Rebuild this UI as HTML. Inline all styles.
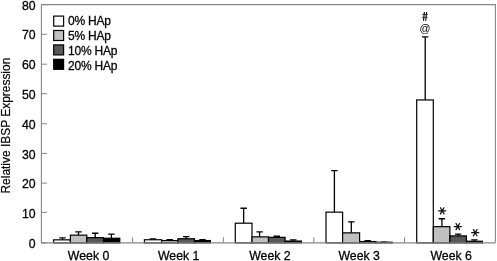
<!DOCTYPE html>
<html><head><meta charset="utf-8"><style>
html,body{margin:0;padding:0;background:#fff;width:497px;height:261px;overflow:hidden}
svg{display:block;will-change:transform}
text{font-family:"Liberation Sans",sans-serif;fill:#000;stroke:#000;stroke-width:0.28px}
.t{font-size:12.3px}
.ya{font-size:11.94px;stroke-width:0.2px}
.lg{font-size:12px;letter-spacing:-0.2px}
.an{font-size:10.8px;stroke-width:0}
.st{font-size:15px}
</style></head><body>
<svg width="497" height="261" viewBox="0 0 497 261">
<path d="M41.4 4.6H495.4V242.85" fill="none" stroke="#868686" stroke-width="1.1"/>
<path d="M41.4 242.85h5.6" stroke="#868686" stroke-width="1"/>
<path d="M41.4 212.35h5.6" stroke="#868686" stroke-width="1"/>
<path d="M41.4 183.10h5.6" stroke="#868686" stroke-width="1"/>
<path d="M41.4 153.40h5.6" stroke="#868686" stroke-width="1"/>
<path d="M41.4 123.75h5.6" stroke="#868686" stroke-width="1"/>
<path d="M41.4 93.65h5.6" stroke="#868686" stroke-width="1"/>
<path d="M41.4 64.20h5.6" stroke="#868686" stroke-width="1"/>
<path d="M41.4 34.30h5.6" stroke="#868686" stroke-width="1"/>
<path d="M41.4 4.60h5.6" stroke="#868686" stroke-width="1"/>
<path d="M132.60 242.85v-5.6" stroke="#868686" stroke-width="1"/>
<path d="M223.40 242.85v-5.6" stroke="#868686" stroke-width="1"/>
<path d="M313.80 242.85v-5.6" stroke="#868686" stroke-width="1"/>
<path d="M404.50 242.85v-5.6" stroke="#868686" stroke-width="1"/>
<path d="M62.50 239.85V237.85M59.30 237.85h6.4" stroke="#000" stroke-width="1.3" fill="none"/>
<rect x="53.60" y="239.85" width="16.80" height="3.00" fill="#ffffff" stroke="#000" stroke-width="1.2"/>
<path d="M78.50 235.15V231.95M75.30 231.95h6.4" stroke="#000" stroke-width="1.3" fill="none"/>
<rect x="70.40" y="235.15" width="16.40" height="7.70" fill="#c0c0c0" stroke="#000" stroke-width="1.2"/>
<path d="M95.20 237.65V233.25M92.00 233.25h6.4" stroke="#000" stroke-width="1.3" fill="none"/>
<rect x="86.80" y="237.65" width="16.70" height="5.20" fill="#595959" stroke="#000" stroke-width="1.2"/>
<path d="M111.40 238.25V234.05M108.20 234.05h6.4" stroke="#000" stroke-width="1.3" fill="none"/>
<rect x="103.50" y="238.25" width="16.30" height="4.60" fill="#000000" stroke="#000" stroke-width="1.2"/>
<path d="M153.00 239.75V238.85M149.80 238.85h6.4" stroke="#000" stroke-width="1.3" fill="none"/>
<rect x="144.40" y="239.75" width="17.20" height="3.10" fill="#ffffff" stroke="#000" stroke-width="1.2"/>
<path d="M169.75 240.55V239.75M166.55 239.75h6.4" stroke="#000" stroke-width="1.3" fill="none"/>
<rect x="161.60" y="240.55" width="16.30" height="2.30" fill="#c0c0c0" stroke="#000" stroke-width="1.2"/>
<path d="M186.20 238.75V236.55M183.00 236.55h6.4" stroke="#000" stroke-width="1.3" fill="none"/>
<rect x="177.90" y="238.75" width="16.60" height="4.10" fill="#595959" stroke="#000" stroke-width="1.2"/>
<path d="M202.45 240.55V239.75M199.25 239.75h6.4" stroke="#000" stroke-width="1.3" fill="none"/>
<rect x="194.50" y="240.55" width="15.90" height="2.30" fill="#000000" stroke="#000" stroke-width="1.2"/>
<path d="M243.65 223.20V208.25M240.45 208.25h6.4" stroke="#000" stroke-width="1.3" fill="none"/>
<rect x="235.30" y="223.20" width="16.70" height="19.65" fill="#ffffff" stroke="#000" stroke-width="1.2"/>
<path d="M259.60 236.85V231.85M256.40 231.85h6.4" stroke="#000" stroke-width="1.3" fill="none"/>
<rect x="252.00" y="236.85" width="16.50" height="6.00" fill="#c0c0c0" stroke="#000" stroke-width="1.2"/>
<path d="M276.80 237.35V236.25M273.60 236.25h6.4" stroke="#000" stroke-width="1.3" fill="none"/>
<rect x="268.50" y="237.35" width="16.60" height="5.50" fill="#595959" stroke="#000" stroke-width="1.2"/>
<path d="M293.25 241.05V239.85M290.05 239.85h6.4" stroke="#000" stroke-width="1.3" fill="none"/>
<rect x="285.10" y="241.05" width="16.30" height="1.80" fill="#000000" stroke="#000" stroke-width="1.2"/>
<path d="M334.40 212.15V170.65M331.20 170.65h6.4" stroke="#000" stroke-width="1.3" fill="none"/>
<rect x="326.00" y="212.15" width="16.60" height="30.70" fill="#ffffff" stroke="#000" stroke-width="1.2"/>
<path d="M351.30 232.85V221.85M348.10 221.85h6.4" stroke="#000" stroke-width="1.3" fill="none"/>
<rect x="342.60" y="232.85" width="17.00" height="10.00" fill="#c0c0c0" stroke="#000" stroke-width="1.2"/>
<path d="M367.75 241.55V240.65M364.55 240.65h6.4" stroke="#000" stroke-width="1.3" fill="none"/>
<rect x="359.60" y="241.55" width="16.30" height="1.30" fill="#595959" stroke="#000" stroke-width="1.2"/>
<path d="M384.05 242.25V242.05M380.85 242.05h6.4" stroke="#000" stroke-width="1.3" fill="none"/>
<rect x="375.90" y="242.25" width="16.30" height="0.60" fill="#000000" stroke="#000" stroke-width="1.2"/>
<path d="M425.20 99.95V36.85M422.00 36.85h6.4" stroke="#000" stroke-width="1.3" fill="none"/>
<rect x="416.70" y="99.95" width="16.60" height="142.90" fill="#ffffff" stroke="#000" stroke-width="1.2"/>
<path d="M441.90 226.65V218.75M438.70 218.75h6.4" stroke="#000" stroke-width="1.3" fill="none"/>
<rect x="433.30" y="226.65" width="16.60" height="16.20" fill="#c0c0c0" stroke="#000" stroke-width="1.2"/>
<path d="M458.15 235.90V234.10M454.95 234.10h6.4" stroke="#000" stroke-width="1.3" fill="none"/>
<rect x="449.90" y="235.90" width="16.50" height="6.95" fill="#595959" stroke="#000" stroke-width="1.2"/>
<path d="M474.40 241.25V239.85M471.20 239.85h6.4" stroke="#000" stroke-width="1.3" fill="none"/>
<rect x="466.40" y="241.25" width="16.00" height="1.60" fill="#000000" stroke="#000" stroke-width="1.2"/>
<path d="M41.4 4.6V242.85H495.4" fill="none" stroke="#868686" stroke-width="1.1"/>
<text x="35.6" y="247.85" text-anchor="end" class="t">0</text>
<text x="35.6" y="218.07" text-anchor="end" class="t">10</text>
<text x="35.6" y="188.29" text-anchor="end" class="t">20</text>
<text x="35.6" y="158.51" text-anchor="end" class="t">30</text>
<text x="35.6" y="128.72" text-anchor="end" class="t">40</text>
<text x="35.6" y="98.94" text-anchor="end" class="t">50</text>
<text x="35.6" y="69.16" text-anchor="end" class="t">60</text>
<text x="35.6" y="39.38" text-anchor="end" class="t">70</text>
<text x="35.6" y="9.60" text-anchor="end" class="t">80</text>
<text x="88.60" y="259.8" text-anchor="middle" class="t">Week 0</text>
<text x="178.70" y="259.8" text-anchor="middle" class="t">Week 1</text>
<text x="269.90" y="259.8" text-anchor="middle" class="t">Week 2</text>
<text x="359.20" y="259.8" text-anchor="middle" class="t">Week 3</text>
<text x="451.20" y="259.8" text-anchor="middle" class="t">Week 6</text>
<text transform="translate(10.0 125.6) rotate(-90)" text-anchor="middle" class="ya">Relative IBSP Expression</text>
<rect x="53.7" y="16.10" width="9.9" height="10.0" fill="#ffffff" stroke="#000" stroke-width="1.2"/>
<text x="68" y="25.45" class="lg">0% HAp</text>
<rect x="53.7" y="30.50" width="9.9" height="10.0" fill="#c0c0c0" stroke="#000" stroke-width="1.2"/>
<text x="68" y="40.25" class="lg">5% HAp</text>
<rect x="53.7" y="44.90" width="9.9" height="10.0" fill="#595959" stroke="#000" stroke-width="1.2"/>
<text x="68" y="55.05" class="lg">10% HAp</text>
<rect x="53.7" y="59.30" width="9.9" height="10.0" fill="#000000" stroke="#000" stroke-width="1.2"/>
<text x="68" y="69.85" class="lg">20% HAp</text>
<path d="M423.5 20.7L424.4 12.0M425.7 20.7L426.6 12.0" stroke="#000" stroke-width="1.15" fill="none"/>
<path d="M422.2 14.5H428.0M421.9 17.4H427.7" stroke="#222" stroke-width="0.8" fill="none"/>
<text x="425.1" y="31.7" text-anchor="middle" class="an">@</text>
<path d="M442.20 210.80L445.75 210.80M442.20 210.80L443.97 213.87M442.20 210.80L440.43 213.87M442.20 210.80L438.65 210.80M442.20 210.80L440.43 207.73M442.20 210.80L443.97 207.73" stroke="#111" stroke-width="1.25" stroke-linecap="round" fill="none"/>
<path d="M457.80 226.60L461.35 226.60M457.80 226.60L459.57 229.67M457.80 226.60L456.03 229.67M457.80 226.60L454.25 226.60M457.80 226.60L456.03 223.53M457.80 226.60L459.57 223.53" stroke="#111" stroke-width="1.25" stroke-linecap="round" fill="none"/>
<path d="M475.20 232.70L478.75 232.70M475.20 232.70L476.97 235.77M475.20 232.70L473.43 235.77M475.20 232.70L471.65 232.70M475.20 232.70L473.43 229.63M475.20 232.70L476.97 229.63" stroke="#111" stroke-width="1.25" stroke-linecap="round" fill="none"/>
</svg>
</body></html>
